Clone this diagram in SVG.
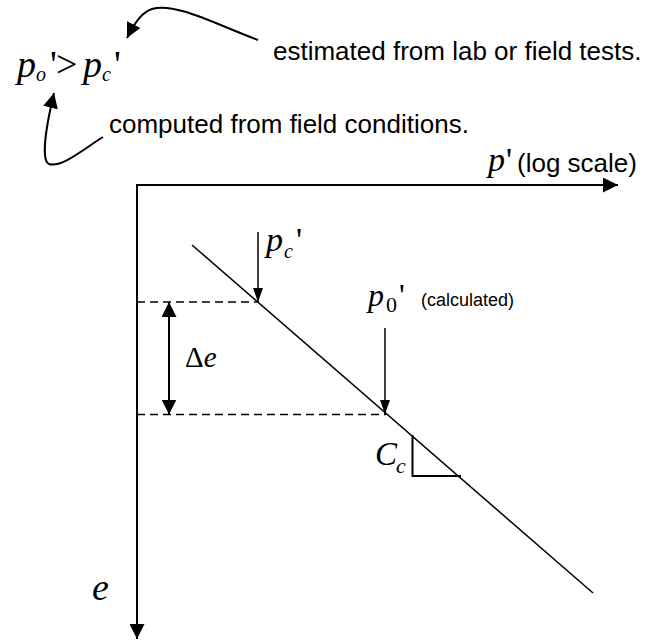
<svg xmlns="http://www.w3.org/2000/svg" width="652" height="640" viewBox="0 0 652 640">
<style>
.ln{fill:none;stroke:#000;stroke-width:2}
.thin{fill:none;stroke:#000;stroke-width:1.5}
.dash{fill:none;stroke:#000;stroke-width:1.5;stroke-dasharray:8,5}
.sans{font-family:"Liberation Sans",Arial,sans-serif;fill:#000}
.serif{font-family:"Liberation Serif","Times New Roman",serif;fill:#000}
.it{font-style:italic}
</style>
<defs>
<marker id="big" markerUnits="userSpaceOnUse" markerWidth="15" markerHeight="15" refX="15" refY="7.5" orient="auto-start-reverse" viewBox="0 0 15 15">
<path d="M0,0 L15,7.5 L0,15 z" fill="#000"/>
</marker>
<marker id="small" markerUnits="userSpaceOnUse" markerWidth="14" markerHeight="10" refX="14" refY="5" orient="auto" viewBox="0 0 14 10">
<path d="M0,0 L14,5 L0,10 z" fill="#000"/>
</marker>
</defs>
<rect width="652" height="640" fill="#fff"/>

<g id="connectors">
<path class="ln" d="M258,40 C215,24 175,2 152,9 C143,12 136,20 127,38" marker-end="url(#big)"/>
<path class="ln" d="M103,137 C85,148 62,168 49,164 C42,161 44,135 54,93" marker-end="url(#big)"/>
<line class="thin" x1="258" y1="232" x2="258" y2="302" marker-end="url(#small)"/>
<line class="thin" x1="385" y1="328" x2="385" y2="414" marker-end="url(#small)"/>
<line class="ln" x1="169" y1="302" x2="169" y2="414.5" marker-start="url(#big)" marker-end="url(#big)"/>
</g>

<g id="axes">
<line class="ln" x1="137" y1="185" x2="618" y2="185" marker-end="url(#big)"/>
<line class="ln" x1="137" y1="184" x2="137" y2="639" marker-end="url(#big)"/>
</g>

<g id="curve">
<line class="thin" x1="192" y1="245" x2="593" y2="593"/>
<line class="dash" x1="137" y1="302" x2="258" y2="302"/>
<line class="dash" x1="137" y1="414.5" x2="386" y2="414.5"/>
<path class="ln" d="M412.5,435 V476 H461"/>
</g>

<g id="formula">
<text class="serif" font-size="38" y="77"><tspan class="it" x="17">p</tspan><tspan class="it" x="36" y="81" font-size="20">o</tspan><tspan x="50" y="77">'</tspan><tspan x="56">&gt;</tspan><tspan class="it" x="83">p</tspan><tspan class="it" x="102" y="81" font-size="20">c</tspan><tspan x="114" y="77">'</tspan></text>
</g>

<g id="label-estimated">
<text class="sans" font-size="26" x="273" y="60">estimated from lab or field tests.</text>
</g>
<g id="label-computed">
<text class="sans" font-size="26" x="109" y="133">computed from field conditions.</text>
</g>
<g id="label-paxis">
<text class="serif" font-size="34" y="171"><tspan class="it" x="488">p</tspan><tspan x="506">'</tspan></text>
<text class="sans" font-size="26" x="517" y="172">(log scale)</text>
</g>
<g id="label-pc">
<text class="serif" font-size="34" y="251"><tspan class="it" x="266">p</tspan><tspan class="it" x="284" y="258" font-size="20">c</tspan><tspan x="296" y="251">'</tspan></text>
</g>
<g id="label-p0">
<text class="serif" font-size="32" y="306"><tspan class="it" x="368">p</tspan><tspan x="386" y="312" font-size="22">0</tspan><tspan x="399" y="306">'</tspan></text>
<text class="sans" font-size="18" x="421" y="306">(calculated)</text>
</g>
<g id="label-de">
<text class="serif" font-size="29" x="185" y="367">Δ<tspan class="it">e</tspan></text>
</g>
<g id="label-cc">
<text class="serif" font-size="33" y="465"><tspan class="it" x="375">C</tspan><tspan class="it" x="396" y="473" font-size="22">c</tspan></text>
</g>
<g id="label-e">
<text class="serif it" font-size="38" x="92" y="600">e</text>
</g>
</svg>
